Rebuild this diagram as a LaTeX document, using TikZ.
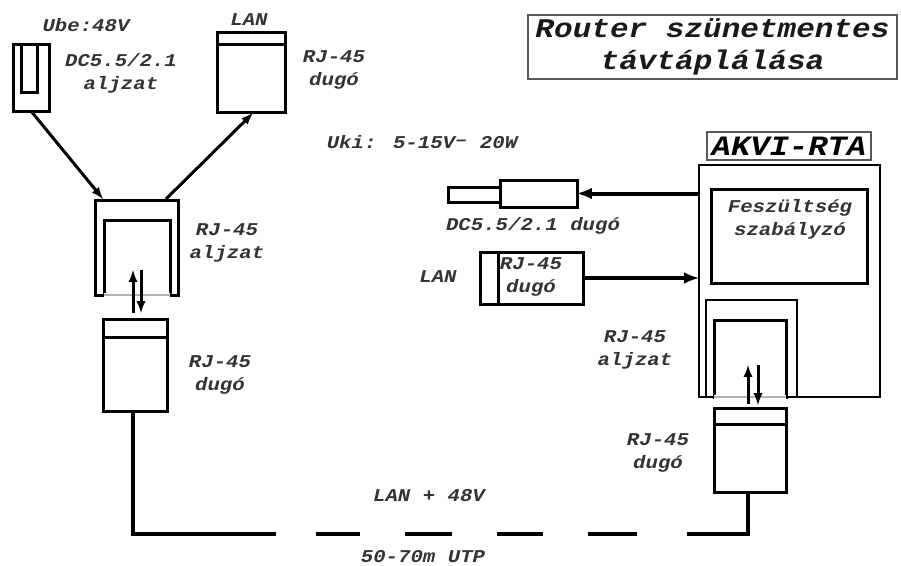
\documentclass[tikz,border=0pt]{standalone}
\usepackage{fontspec}
\setmainfont[FakeStretch=1.15]{Liberation Mono}
\usepackage{tikz}
\tikzstyle{plainbox}=[rectangle,draw=black,fill=white,line width=3pt,
                      inner sep=0pt,outer sep=0pt]
\tikzstyle{thinbox}=[rectangle,draw=black!65,fill=white,line width=1.5pt,
                      inner sep=0pt,outer sep=0pt]
\tikzstyle{lbl}=[inner sep=0pt,align=center,text=black!80,
                 font=\fontsize{18}{23}\selectfont\bfseries\itshape]
\tikzstyle{biglbl}=[lbl,text=black!90,font=\fontsize{27}{32}\selectfont\bfseries\itshape]
\tikzstyle{wire}=[line width=3pt,-latex]
\tikzstyle{cable}=[line width=4.5pt,line cap=butt]
\tikzstyle{opening}=[black!30,line width=1.5pt]

\begin{document}
\begin{tikzpicture}[x=1pt,y=-1pt]
    \useasboundingbox (0,0) rectangle (901,565);
    % left side
    \node (dcsock) at (31,77.5) [plainbox,minimum width=36pt,minimum height=67pt]{};
    \node (dcslot) at (29,68) [plainbox,minimum width=16pt,minimum height=48pt]{};
    \node (lanhead) at (251,38) [plainbox,minimum width=68pt,minimum height=12pt]{};
    \node (lanbody) at (251,78) [plainbox,minimum width=68pt,minimum height=68pt]{};
    \node (lsock) at (136.5,247.5) [plainbox,minimum width=83pt,minimum height=95pt]{};
    \node (lslot) at (137,257.5) [plainbox,minimum width=66pt,minimum height=75pt]{};
    \node (lplughead) at (135,328) [plainbox,minimum width=64pt,minimum height=18pt]{};
    \node (lplugbody) at (135,374) [plainbox,minimum width=64pt,minimum height=74pt]{};
    \draw[white,line width=3.5pt] (lslot.south west) -- (lslot.south east);
    \draw[opening] (lslot.south west) -- (lslot.south east);
    \coordinate (dcin) at (103,199);
    \coordinate (lanout) at (166,199);
    \coordinate (lanin) at (253,113);
    \coordinate (lup1) at (133,313);
    \coordinate (lup2) at (133,270);
    \coordinate (ldown1) at (141,270);
    \coordinate (ldown2) at (141,313);
    \draw[wire] (dcsock.south) -- (dcin);
    \draw[wire] (lanout) -- (lanin);
    \draw[wire] (lup1) -- (lup2);
    \draw[wire] (ldown1) -- (ldown2);
    % right side
    \node (akvi) at (789.5,281) [plainbox,line width=2.5pt,minimum width=181pt,minimum height=232pt]{};
    \node (reg) at (789,236) [plainbox,minimum width=156pt,minimum height=94pt]{};
    \node (rsock) at (751.5,348.5) [plainbox,line width=2.5pt,minimum width=91pt,minimum height=97pt]{};
    \node (rslot) at (750,358.5) [plainbox,minimum width=72pt,minimum height=77pt]{};
    \draw[white,line width=3.5pt] (rslot.south west) -- (rslot.south east);
    \draw[opening] (rslot.south west) -- (rslot.south east);
    \node (rplughead) at (750,416) [plainbox,minimum width=72pt,minimum height=16pt]{};
    \node (rplugbody) at (750,458) [plainbox,minimum width=72pt,minimum height=68pt]{};
    \node (dctip) at (474,194.5) [plainbox,minimum width=52pt,minimum height=15pt]{};
    \node (dcbody) at (538.5,193.5) [plainbox,minimum width=77pt,minimum height=27pt]{};
    \node (rjhead) at (489,278) [plainbox,minimum width=18pt,minimum height=52pt]{};
    \node (rjbody) at (540.5,278) [plainbox,minimum width=85pt,minimum height=52pt]{};
    \coordinate (rup1) at (748,404);
    \coordinate (rup2) at (748,365);
    \coordinate (rdown1) at (758,365);
    \coordinate (rdown2) at (758,405);
    \draw[wire] (rup1) -- (rup2);
    \draw[wire] (rdown1) -- (rdown2);
    \draw[wire,line width=4pt] (akvi.west |- dcbody) -- (dcbody.east);
    \draw[wire,line width=4pt] (rjbody.east) -- (akvi.west |- rjbody);
    % cable
    \coordinate (lcorner) at (133,534);
    \coordinate (rcorner) at (748,534);
    \draw[cable] (lcorner |- lplugbody.south) -- (lcorner) -- (276,534)
        (316,534) -- (360,534) (405,534) -- (452,534)
        (497,534) -- (543,534) (588,534) -- (637,534)
        (687,534) -- (rcorner) -- (rcorner |- rplugbody.south);
    % labels
    \node (ube) at (86,25) [lbl]{Ube:48V};
    \node (dcsocklbl) at (121,73) [lbl]{DC5.5/2.1\\aljzat};
    \node (lanlbl) at (249,20) [lbl]{LAN};
    \node (lanpluglbl) at (334,70) [lbl]{RJ-45\\dugó};
    \node (lsocklbl) at (227,243) [lbl]{RJ-45\\aljzat};
    \node (lpluglbl) at (220,375) [lbl]{RJ-45\\dugó};
    \node (uki) at (422,142) [lbl]{Uki: 5-15V\raisebox{3pt}{–} 20W};
    \node (dcpluglbl) at (533,226) [lbl]{DC5.5/2.1 dugó};
    \node (lanlbl2) at (438,277) [lbl]{LAN};
    \node (rjlbl) at (531,277) [lbl]{RJ-45\\dugó};
    \node (reglbl) at (790,219) [lbl]{Feszültség\\szabályzó};
    \node (rsocklbl) at (635,350) [lbl]{RJ-45\\aljzat};
    \node (rpluglbl) at (658,453) [lbl]{RJ-45\\dugó};
    \node (lanv) at (429,496) [lbl]{LAN + 48V};
    \node (utp) at (423,557) [lbl]{50-70m UTP};
    \node (akvilbl) at (789,146) [thinbox,minimum width=164pt,minimum height=28pt,
        font=\fontsize{28}{28}\selectfont\bfseries\itshape]{AKVI-RTA};
    \node (title) at (712.5,47) [thinbox,biglbl,draw=black!65,minimum width=369pt,minimum height=64pt]{Router szünetmentes\\távtáplálása};
\end{tikzpicture}
\end{document}
